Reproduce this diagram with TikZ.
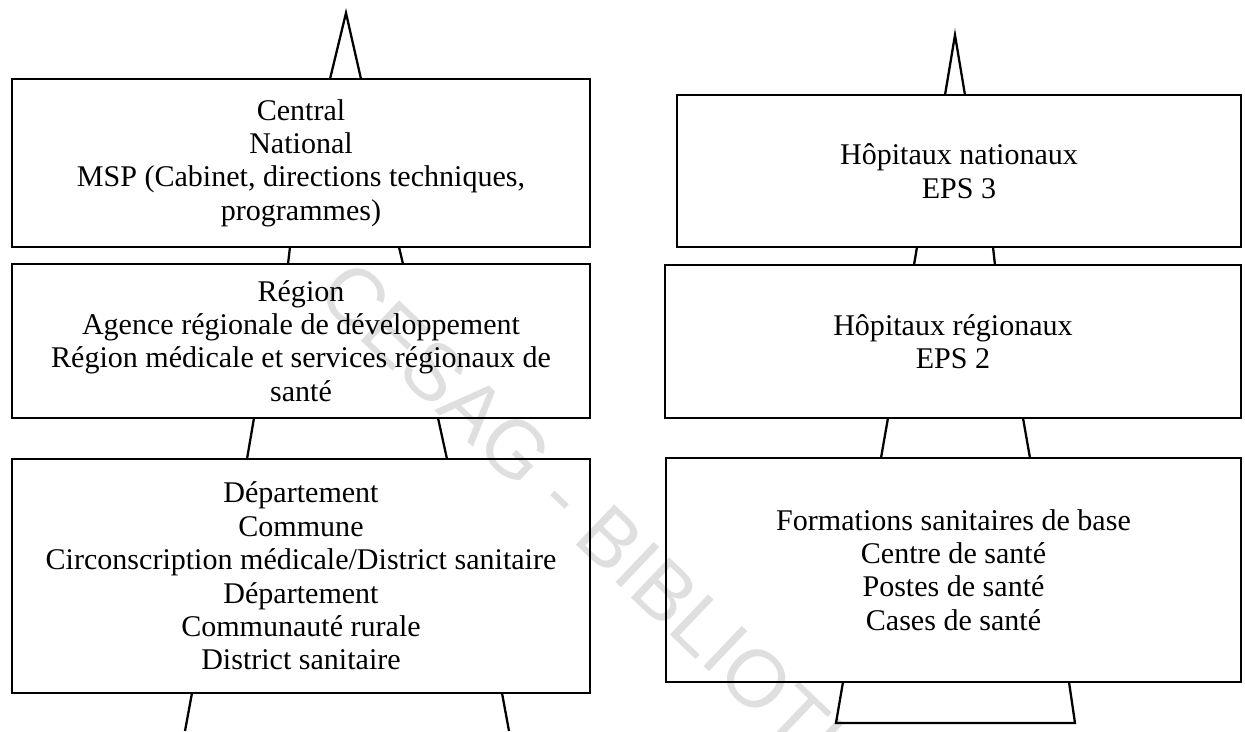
\documentclass[tikz,border=0pt]{standalone}
\usepackage{fontspec}
\setmainfont{Liberation Serif}
\newfontfamily\wmfont{Liberation Sans}
\newcommand{\boxfont}{\fontsize{17.1}{19}\selectfont}

\tikzset{
    level/.style={draw, line width=1.3pt, align=center, inner sep=0pt, font=\boxfont},
    pyr/.style={line width=1.3pt, line join=miter}
}

\begin{document}
\begin{tikzpicture}[x=0.02cm, y=-0.02cm]
            \useasboundingbox (0,0) rectangle (1245,731);
            % watermark
            \node[anchor=west, rotate=-43.6, text=gray!25, font=\wmfont\fontsize{46}{50}\selectfont] (wm) at (324,277) {CESAG - BIBLIOTHEQUE};
            % left pyramid
            \draw[pyr] (330,79) -- (346,13) -- (361,79);
            \draw[pyr] (290,247) -- (288,264);
            \draw[pyr] (399,247) -- (403,264);
            \draw[pyr] (254,418) -- (247,459);
            \draw[pyr] (438,418) -- (447,459);
            \draw[pyr] (192,693) -- (185,731);
            \draw[pyr] (502,693) -- (509,731);
            % right pyramid
            \draw[pyr] (945,95) -- (955,35) -- (965,95);
            \draw[pyr] (917,247) -- (914,265);
            \draw[pyr] (993,247) -- (995,265);
            \draw[pyr] (888,418) -- (881,458);
            \draw[pyr] (1023,418) -- (1030,458);
            \draw[pyr] (843,682) -- (836,723) -- (1075,723) -- (1069,682);
            % levels
            \node[level, minimum width=11.56cm, minimum height=3.36cm] (central) at (301,163)
                {Central\\National\\MSP (Cabinet, directions techniques,\\programmes)};
            \node[level, minimum width=11.56cm, minimum height=3.08cm] (region) at (301,341)
                {Région\\Agence régionale de développement\\Région médicale et services régionaux de\\santé};
            \node[level, minimum width=11.56cm, minimum height=4.68cm] (dept) at (301,576)
                {Département\\Commune\\Circonscription médicale/District sanitaire\\Département\\Communauté rurale\\District sanitaire};
            \node[level, minimum width=11.28cm, minimum height=3.04cm] (eps3) at (959,171)
                {Hôpitaux nationaux\\EPS 3};
            \node[level, minimum width=11.52cm, minimum height=3.06cm] (eps2) at (953,341.5)
                {Hôpitaux régionaux\\EPS 2};
            \node[level, minimum width=11.5cm, minimum height=4.48cm] (base) at (953.5,570)
                {Formations sanitaires de base\\Centre de santé\\Postes de santé\\Cases de santé};
        \end{tikzpicture}
\end{document}
